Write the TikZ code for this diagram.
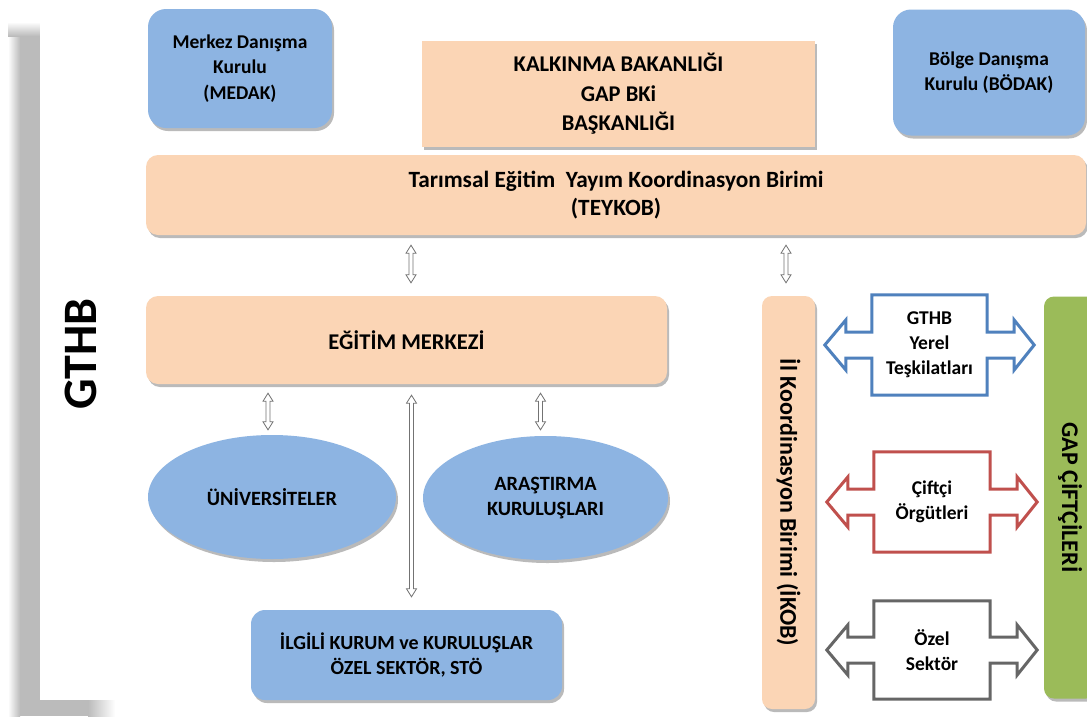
\documentclass[tikz,border=0pt]{standalone}
\usepackage{fontspec}
\setmainfont{Carlito}
\usetikzlibrary{shapes.geometric,shadows,calc}

\definecolor{boxblue}{HTML}{8DB4E2}
\definecolor{peach}{HTML}{FBD5B5}
\definecolor{gapgreen}{HTML}{9BBB59}
\definecolor{arblue}{HTML}{4F81BD}
\definecolor{arred}{HTML}{C0504D}
\definecolor{argray}{HTML}{666666}
\definecolor{shadowgray}{HTML}{BBBBBB}

\tikzset{
  shd/.style={drop shadow={shadow xshift=2pt, shadow yshift=-3pt, opacity=0.45, fill=black!60}},
  bluebox/.style={shd, rectangle, rounded corners=#1, fill=boxblue, draw=none, align=center, inner sep=0pt, font=\fontsize{19.5}{25.5}\selectfont\bfseries},
  peachbox/.style={shd, rectangle, rounded corners=#1, fill=peach, draw=none, align=center, inner sep=0pt},
  blueell/.style={shd, ellipse, fill=boxblue, draw=none, align=center, inner sep=0pt, font=\fontsize{20.3}{24.5}\selectfont\bfseries},
  calltext/.style={rectangle, draw=none, align=center, inner sep=0pt, font=\fontsize{19.5}{25}\selectfont\bfseries},
  thinarr/.style={draw=black!55, line width=0.8pt, fill=white, line join=miter},
  callline/.style={line width=3pt, draw=#1, line join=miter, fill=white}
}

\newcommand\callarrow[2]{%
  \draw[callline=#2] (#1.north west) -- (#1.north east) -- ($(#1.east)+(0,-13)$) -- ($(#1.east)+(27,-13)$) -- ($(#1.east)+(27,-25)$) -- ($(#1.east)+(47,0)$) -- ($(#1.east)+(27,25)$) -- ($(#1.east)+(27,13)$) -- ($(#1.east)+(0,13)$) -- (#1.south east) -- (#1.south west) -- ($(#1.west)+(0,13)$) -- ($(#1.west)+(-26,13)$) -- ($(#1.west)+(-26,25)$) -- ($(#1.west)+(-47,0)$) -- ($(#1.west)+(-26,-25)$) -- ($(#1.west)+(-26,-13)$) -- ($(#1.west)+(0,-13)$) -- cycle;}

% up-down hollow arrow between two points (top, bottom)
\newcommand\udarrow[2]{%
  \draw[thinarr] let \p1=(#1), \p2=(#2) in
    (\x1,\y1) -- (\x1+5pt,\y1-8pt) -- (\x1+2pt,\y1-8pt) -- (\x1+2pt,\y2+8pt) -- (\x1+5pt,\y2+8pt) -- (\x1,\y2)
    -- (\x1-5pt,\y2+8pt) -- (\x1-2pt,\y2+8pt) -- (\x1-2pt,\y1-8pt) -- (\x1-5pt,\y1-8pt) -- cycle;}

\begin{document}
\begin{tikzpicture}[x=1pt,y=-1pt]
\useasboundingbox (0,0) rectangle (1087,718);
\fill[white] (0,0) rectangle (1087,718);

% left panel shadow
\shade[left color=white, right color=shadowgray] (8,30) rectangle (20,716);
\fill[shadowgray] (20,30) rectangle (40,716);
\fill[shadowgray] (20,700) rectangle (88,716);
\shade[left color=shadowgray, right color=white] (88,700) rectangle (115,716);
\shade[top color=white, bottom color=shadowgray] (8,22) rectangle (40,36);
\fill[white] (40,8) rectangle (120,700);
\node[rotate=90, font=\fontsize{48}{48}\selectfont\bfseries] (gthb) at (81,354) {GTHB};

% top row
\node[bluebox=18pt, minimum width=184pt, minimum height=119pt] (medak) at (240,68.5) {Merkez Danışma\\Kurulu\\(MEDAK)};
\node[peachbox=0pt, minimum width=393pt, minimum height=106pt, font=\fontsize{22.5}{29.5}\selectfont\bfseries] (kalk) at (618.5,94) {KALKINMA BAKANLIĞI\\GAP BKi\\BAŞKANLIĞI};
\node[bluebox=18pt, minimum width=192pt, minimum height=126pt] (bodak) at (989,72.5) {Bölge Danışma\\Kurulu (BÖDAK)};

\node[peachbox=12pt, minimum width=940pt, minimum height=80pt, font=\fontsize{23.3}{28.5}\selectfont\bfseries] (teykob) at (616,195) {Tarımsal Eğitim\ \ Yayım Koordinasyon Birimi\\(TEYKOB)};

\node[peachbox=12pt, minimum width=521pt, minimum height=88pt, font=\fontsize{22.5}{28}\selectfont\bfseries] (egitim) at (406.5,340) {EĞİTİM MERKEZİ};

\node[blueell, minimum width=248pt, minimum height=124pt] (univ) at (272,497) {ÜNİVERSİTELER};
\node[blueell, minimum width=245pt, minimum height=124pt] (arast) at (545.5,498) {ARAŞTIRMA\\KURULUŞLARI};

\node[bluebox=14pt, minimum width=311pt, minimum height=90pt, font=\fontsize{20}{25}\selectfont\bfseries] (ilgili) at (406.5,655) {İLGİLİ KURUM ve KURULUŞLAR\\ÖZEL SEKTÖR, STÖ};

% vertical bars
\node[peachbox=10pt, minimum width=413pt, minimum height=53pt, rotate=-90, font=\fontsize{24}{26}\selectfont\bfseries] (ikob) at (788.5,502.5) {İl Koordinasyon Birimi (İKOB)};
\node[shd, rectangle, rounded corners=10pt, fill=gapgreen, minimum width=402pt, minimum height=52pt, rotate=-90, inner sep=0pt, font=\fontsize{23.9}{26}\selectfont\bfseries] (gap) at (1070,497.5) {GAP ÇİFTÇİLERİ};

% callout arrows
\node[calltext, minimum width=115pt, minimum height=100pt] (yerel) at (929.5,345) {};
\callarrow{yerel}{arblue}
\node[calltext] at (yerel) {GTHB\\Yerel\\Teşkilatları};

\node[calltext, minimum width=116pt, minimum height=100pt] (ciftci) at (932,502) {};
\callarrow{ciftci}{arred}
\node[calltext] at (ciftci) {Çiftçi\\Örgütleri};

\node[calltext, minimum width=116pt, minimum height=98pt] (ozel) at (932,650) {};
\callarrow{ozel}{argray}
\node[calltext] at (ozel) {Özel\\Sektör};

% thin double arrows
\udarrow{$(teykob.south -| egitim.north)+(4.5,10)$}{$(egitim.north)+(4.5,-13)$}
\udarrow{$(teykob.south -| ikob.west)+(-2.5,10)$}{$(ikob.west)+(-2.5,-13)$}
\udarrow{$(egitim.south -| univ.north)+(-4,9)$}{$(univ.north)+(-4,-5)$}
\udarrow{$(egitim.south -| arast.north)+(-5,9)$}{$(arast.north)+(-5,-6)$}
\udarrow{$(egitim.south)+(5,11)$}{$(ilgili.north)+(5,-13)$}
\end{tikzpicture}
\end{document}
